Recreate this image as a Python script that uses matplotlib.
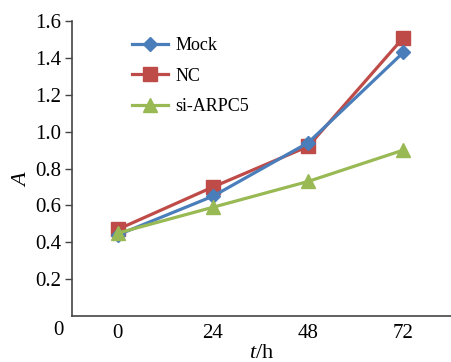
import numpy as np
import matplotlib.pyplot as plt

# dados
tempos = ['0', '24', '48', '72']
mock = [0.44, 0.65, 0.94, 1.43]
nc = [0.47, 0.70, 0.92, 1.51]
si_arpc5 = [0.45, 0.59, 0.73, 0.90]
y_ticks = [0.2, 0.4, 0.6, 0.8, 1.0, 1.2, 1.4, 1.6]

plt.rcParams['font.family'] = ['Liberation Serif', 'DejaVu Serif']
plt.rcParams['mathtext.fontset'] = 'custom'
plt.rcParams['mathtext.it'] = 'Liberation Serif:italic'
plt.rcParams['mathtext.rm'] = 'Liberation Serif'

fig = plt.figure(figsize=(4.51, 3.62), dpi=100)
ax = fig.add_axes([0.160, 0.127, 0.840, 0.815])

x = np.arange(len(tempos))
ax.plot(x, mock, color='#4a7ebb', lw=2.3, marker='D', ms=7, label='Mock', zorder=3)
ax.plot(x, nc, color='#be4b48', lw=2.3, marker='s', ms=10, label='NC', zorder=2)
ax.plot(x, si_arpc5, color='#98b954', lw=2.3, marker='^', ms=10, label='si-ARPC5', zorder=4)

ax.set_xlim(-0.48, 3.5)
ax.set_ylim(0, 1.6)
ax.set_xticks(x)
ax.set_xticklabels(tempos)
ax.set_yticks(y_ticks)
ax.set_yticklabels(['%.1f' % v for v in y_ticks])
ax.tick_params(axis='x', length=0, pad=6, labelsize=15)
ax.tick_params(axis='y', length=5, width=1, direction='out', labelsize=15, color='#444444', pad=3)
for s in ['top', 'right']:
    ax.spines[s].set_visible(False)
for s in ['left', 'bottom']:
    ax.spines[s].set_color('#444444')
    ax.spines[s].set_linewidth(1.2)

# o zero na origem
ax.text(-0.62, -0.025, '0', transform=ax.transData, ha='center', va='top', fontsize=15)

ax.set_ylabel('A', fontsize=16, fontstyle='italic')
ax.yaxis.set_label_coords(-0.105, 0.46)
ax.set_xlabel('$\\mathit{t}$/h', fontsize=16)
ax.xaxis.set_label_coords(0.5, -0.095)

ax.legend(loc='upper left', bbox_to_anchor=(0.115, 1.0), frameon=False, fontsize=13,
          handlelength=2.0, labelspacing=0.75, handletextpad=0.4)

plt.savefig('out.png', dpi=100)
